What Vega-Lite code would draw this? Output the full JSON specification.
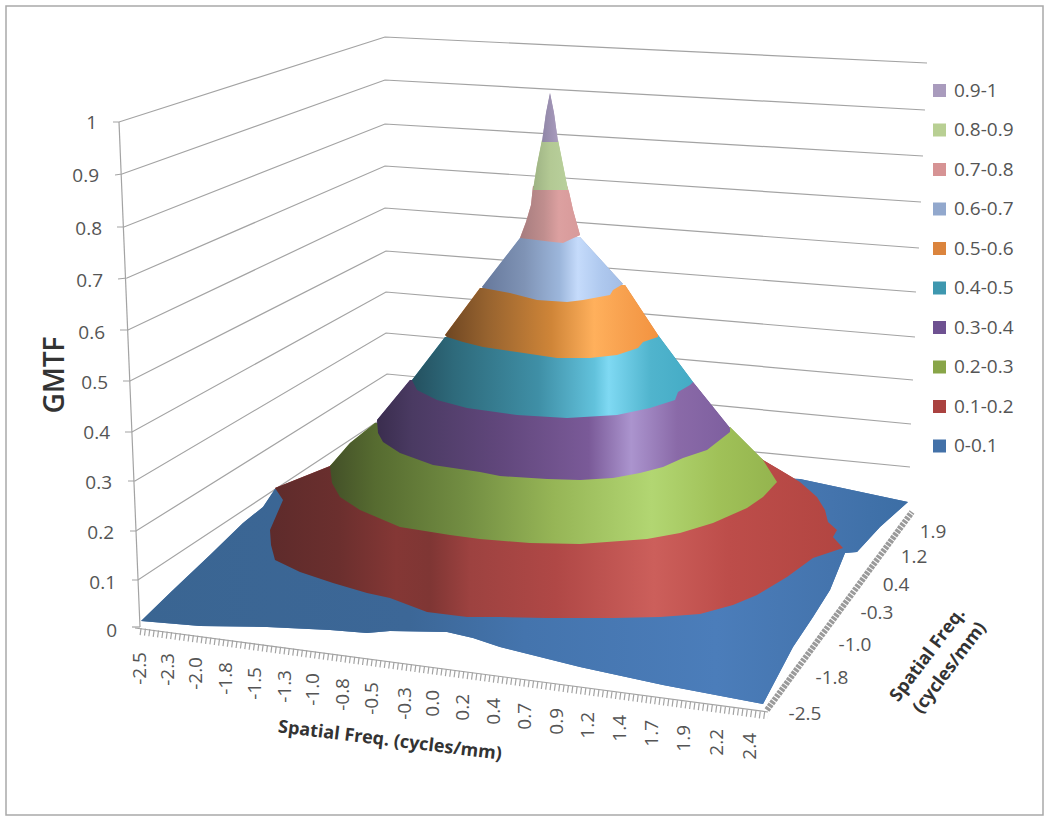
{
"$schema":"https://vega.github.io/schema/vega-lite/v6.json",
"width":1050,"height":820,"padding":0,"autosize":"none","background":"white",
"config":{"view":{"stroke":null}},
"datasets":{
"frame":[{"x":6,"y":6,"x2":1043,"y2":815}],
"grid":[
{"s":"1","i":0,"x":113,"y":122},{"s":"1","i":1,"x":119,"y":122},{"s":"1","i":2,"x":385,"y":37},{"s":"1","i":3,"x":927,"y":63},
{"s":"0.9","i":0,"x":115,"y":175},{"s":"0.9","i":1,"x":122,"y":174},{"s":"0.9","i":2,"x":385,"y":80},{"s":"0.9","i":3,"x":925,"y":110},
{"s":"0.8","i":0,"x":117,"y":227},{"s":"0.8","i":1,"x":124,"y":227},{"s":"0.8","i":2,"x":385,"y":124},{"s":"0.8","i":3,"x":923,"y":156},
{"s":"0.7","i":0,"x":118,"y":279},{"s":"0.7","i":1,"x":127,"y":278},{"s":"0.7","i":2,"x":385,"y":166},{"s":"0.7","i":3,"x":921,"y":202},
{"s":"0.6","i":0,"x":120,"y":330},{"s":"0.6","i":1,"x":128,"y":330},{"s":"0.6","i":2,"x":385,"y":208},{"s":"0.6","i":3,"x":919,"y":248},
{"s":"0.5","i":0,"x":123,"y":381},{"s":"0.5","i":1,"x":130,"y":381},{"s":"0.5","i":2,"x":386,"y":251},{"s":"0.5","i":3,"x":916,"y":292},
{"s":"0.4","i":0,"x":125,"y":432},{"s":"0.4","i":1,"x":132,"y":432},{"s":"0.4","i":2,"x":386,"y":292},{"s":"0.4","i":3,"x":915,"y":337},
{"s":"0.3","i":0,"x":128,"y":481},{"s":"0.3","i":1,"x":135,"y":481},{"s":"0.3","i":2,"x":386,"y":333},{"s":"0.3","i":3,"x":913,"y":380},
{"s":"0.2","i":0,"x":130,"y":531},{"s":"0.2","i":1,"x":136,"y":531},{"s":"0.2","i":2,"x":387,"y":374},{"s":"0.2","i":3,"x":911,"y":424},
{"s":"0.1","i":0,"x":132,"y":580},{"s":"0.1","i":1,"x":138,"y":580},{"s":"0.1","i":2,"x":386,"y":416},{"s":"0.1","i":3,"x":910,"y":467},
{"s":"0","i":0,"x":132,"y":627},{"s":"0","i":1,"x":140,"y":627},
{"s":"yaxis","i":0,"x":119,"y":122},{"s":"yaxis","i":1,"x":140,"y":627},
{"s":"xaxis","i":0,"x":135,"y":628},{"s":"xaxis","i":1,"x":768,"y":712}],
"xticks":[{"x":140,"y":631.5},{"x":768,"y":716}],
"zticks":[{"x":767,"y":710},{"x":912,"y":512}],
"surface":[
{"b":"0-0.1","i":0,"x":141,"y":621},{"b":"0-0.1","i":1,"x":200,"y":626},{"b":"0-0.1","i":2,"x":267,"y":627},{"b":"0-0.1","i":3,"x":330,"y":630},{"b":"0-0.1","i":4,"x":367,"y":633},{"b":"0-0.1","i":5,"x":390,"y":631},{"b":"0-0.1","i":6,"x":447,"y":632},{"b":"0-0.1","i":7,"x":473,"y":638},{"b":"0-0.1","i":8,"x":500,"y":647},{"b":"0-0.1","i":9,"x":580,"y":667},{"b":"0-0.1","i":10,"x":663,"y":685},{"b":"0-0.1","i":11,"x":763,"y":704},{"b":"0-0.1","i":12,"x":793,"y":647},{"b":"0-0.1","i":13,"x":813,"y":617},{"b":"0-0.1","i":14,"x":830,"y":590},{"b":"0-0.1","i":15,"x":845,"y":553},{"b":"0-0.1","i":16,"x":857,"y":552},{"b":"0-0.1","i":17,"x":880,"y":527},{"b":"0-0.1","i":18,"x":908,"y":502},{"b":"0-0.1","i":19,"x":800,"y":479},{"b":"0-0.1","i":20,"x":600,"y":470},{"b":"0-0.1","i":21,"x":275,"y":489},{"b":"0-0.1","i":22,"x":263,"y":507},{"b":"0-0.1","i":23,"x":243,"y":523},{"b":"0-0.1","i":24,"x":210,"y":555},{"b":"0-0.1","i":25,"x":173,"y":590},
{"b":"0.1-0.2","i":0,"x":275,"y":488},{"b":"0.1-0.2","i":1,"x":330,"y":466},{"b":"0.1-0.2","i":2,"x":550,"y":300},{"b":"0.1-0.2","i":3,"x":763,"y":460},{"b":"0.1-0.2","i":4,"x":780,"y":470},{"b":"0.1-0.2","i":5,"x":800,"y":482},{"b":"0.1-0.2","i":6,"x":817,"y":497},{"b":"0.1-0.2","i":7,"x":825,"y":510},{"b":"0.1-0.2","i":8,"x":828,"y":522},{"b":"0.1-0.2","i":9,"x":837,"y":530},{"b":"0.1-0.2","i":10,"x":833,"y":537},{"b":"0.1-0.2","i":11,"x":843,"y":548},{"b":"0.1-0.2","i":12,"x":813,"y":558},{"b":"0.1-0.2","i":13,"x":787,"y":577},{"b":"0.1-0.2","i":14,"x":757,"y":595},{"b":"0.1-0.2","i":15,"x":733,"y":605},{"b":"0.1-0.2","i":16,"x":700,"y":614},{"b":"0.1-0.2","i":17,"x":660,"y":617},{"b":"0.1-0.2","i":18,"x":613,"y":618},{"b":"0.1-0.2","i":19,"x":547,"y":618},{"b":"0.1-0.2","i":20,"x":500,"y":617},{"b":"0.1-0.2","i":21,"x":467,"y":617},{"b":"0.1-0.2","i":22,"x":427,"y":612},{"b":"0.1-0.2","i":23,"x":390,"y":598},{"b":"0.1-0.2","i":24,"x":367,"y":593},{"b":"0.1-0.2","i":25,"x":333,"y":583},{"b":"0.1-0.2","i":26,"x":300,"y":572},{"b":"0.1-0.2","i":27,"x":275,"y":560},{"b":"0.1-0.2","i":28,"x":271,"y":545},{"b":"0.1-0.2","i":29,"x":270,"y":530},{"b":"0.1-0.2","i":30,"x":283,"y":500},
{"b":"0.2-0.3","i":0,"x":330,"y":466},{"b":"0.2-0.3","i":1,"x":350,"y":443},{"b":"0.2-0.3","i":2,"x":375,"y":423},{"b":"0.2-0.3","i":3,"x":730,"y":427},{"b":"0.2-0.3","i":4,"x":763,"y":460},{"b":"0.2-0.3","i":5,"x":777,"y":482},{"b":"0.2-0.3","i":6,"x":763,"y":497},{"b":"0.2-0.3","i":7,"x":747,"y":508},{"b":"0.2-0.3","i":8,"x":713,"y":523},{"b":"0.2-0.3","i":9,"x":680,"y":533},{"b":"0.2-0.3","i":10,"x":647,"y":539},{"b":"0.2-0.3","i":11,"x":580,"y":544},{"b":"0.2-0.3","i":12,"x":530,"y":543},{"b":"0.2-0.3","i":13,"x":480,"y":539},{"b":"0.2-0.3","i":14,"x":450,"y":535},{"b":"0.2-0.3","i":15,"x":400,"y":527},{"b":"0.2-0.3","i":16,"x":360,"y":510},{"b":"0.2-0.3","i":17,"x":340,"y":497},{"b":"0.2-0.3","i":18,"x":332,"y":483},
{"b":"0.3-0.4","i":0,"x":377,"y":420},{"b":"0.3-0.4","i":1,"x":410,"y":380},{"b":"0.3-0.4","i":2,"x":693,"y":382},{"b":"0.3-0.4","i":3,"x":730,"y":428},{"b":"0.3-0.4","i":4,"x":730,"y":432},{"b":"0.3-0.4","i":5,"x":707,"y":450},{"b":"0.3-0.4","i":6,"x":683,"y":458},{"b":"0.3-0.4","i":7,"x":663,"y":467},{"b":"0.3-0.4","i":8,"x":640,"y":473},{"b":"0.3-0.4","i":9,"x":613,"y":478},{"b":"0.3-0.4","i":10,"x":580,"y":480},{"b":"0.3-0.4","i":11,"x":547,"y":479},{"b":"0.3-0.4","i":12,"x":500,"y":476},{"b":"0.3-0.4","i":13,"x":480,"y":472},{"b":"0.3-0.4","i":14,"x":433,"y":465},{"b":"0.3-0.4","i":15,"x":400,"y":453},{"b":"0.3-0.4","i":16,"x":383,"y":442},{"b":"0.3-0.4","i":17,"x":378,"y":433},
{"b":"0.4-0.5","i":0,"x":412,"y":380},{"b":"0.4-0.5","i":1,"x":445,"y":337},{"b":"0.4-0.5","i":2,"x":658,"y":335},{"b":"0.4-0.5","i":3,"x":693,"y":382},{"b":"0.4-0.5","i":4,"x":690,"y":385},{"b":"0.4-0.5","i":5,"x":678,"y":392},{"b":"0.4-0.5","i":6,"x":675,"y":400},{"b":"0.4-0.5","i":7,"x":650,"y":408},{"b":"0.4-0.5","i":8,"x":617,"y":415},{"b":"0.4-0.5","i":9,"x":567,"y":418},{"b":"0.4-0.5","i":10,"x":517,"y":415},{"b":"0.4-0.5","i":11,"x":467,"y":408},{"b":"0.4-0.5","i":12,"x":437,"y":400},{"b":"0.4-0.5","i":13,"x":417,"y":390},
{"b":"0.5-0.6","i":0,"x":445,"y":335},{"b":"0.5-0.6","i":1,"x":480,"y":288},{"b":"0.5-0.6","i":2,"x":625,"y":285},{"b":"0.5-0.6","i":3,"x":658,"y":335},{"b":"0.5-0.6","i":4,"x":658,"y":337},{"b":"0.5-0.6","i":5,"x":643,"y":342},{"b":"0.5-0.6","i":6,"x":638,"y":348},{"b":"0.5-0.6","i":7,"x":617,"y":355},{"b":"0.5-0.6","i":8,"x":590,"y":358},{"b":"0.5-0.6","i":9,"x":557,"y":358},{"b":"0.5-0.6","i":10,"x":517,"y":352},{"b":"0.5-0.6","i":11,"x":483,"y":347},{"b":"0.5-0.6","i":12,"x":463,"y":342},{"b":"0.5-0.6","i":13,"x":447,"y":337},
{"b":"0.6-0.7","i":0,"x":482,"y":287},{"b":"0.6-0.7","i":1,"x":520,"y":238},{"b":"0.6-0.7","i":2,"x":580,"y":237},{"b":"0.6-0.7","i":3,"x":623,"y":284},{"b":"0.6-0.7","i":4,"x":613,"y":290},{"b":"0.6-0.7","i":5,"x":610,"y":295},{"b":"0.6-0.7","i":6,"x":583,"y":300},{"b":"0.6-0.7","i":7,"x":567,"y":302},{"b":"0.6-0.7","i":8,"x":537,"y":300},{"b":"0.6-0.7","i":9,"x":510,"y":293},{"b":"0.6-0.7","i":10,"x":483,"y":288},
{"b":"0.7-0.8","i":0,"x":520,"y":238},{"b":"0.7-0.8","i":1,"x":526,"y":222},{"b":"0.7-0.8","i":2,"x":531,"y":205},{"b":"0.7-0.8","i":3,"x":533,"y":186},{"b":"0.7-0.8","i":4,"x":567,"y":186},{"b":"0.7-0.8","i":5,"x":569,"y":192},{"b":"0.7-0.8","i":6,"x":573,"y":210},{"b":"0.7-0.8","i":7,"x":580,"y":235},{"b":"0.7-0.8","i":8,"x":563,"y":243},{"b":"0.7-0.8","i":9,"x":553,"y":242},
{"b":"0.8-0.9","i":0,"x":533,"y":190},{"b":"0.8-0.9","i":1,"x":537,"y":165},{"b":"0.8-0.9","i":2,"x":542,"y":140},{"b":"0.8-0.9","i":3,"x":558,"y":140},{"b":"0.8-0.9","i":4,"x":563,"y":165},{"b":"0.8-0.9","i":5,"x":568,"y":190},
{"b":"0.9-1","i":0,"x":542,"y":142},{"b":"0.9-1","i":1,"x":546,"y":113},{"b":"0.9-1","i":2,"x":550,"y":93},{"b":"0.9-1","i":3,"x":554,"y":113},{"b":"0.9-1","i":4,"x":558,"y":142}],
"ylab":[{"t":"1","x":97,"y":123},{"t":"0.9","x":99,"y":176},{"t":"0.8","x":102,"y":229},{"t":"0.7","x":103,"y":281},{"t":"0.6","x":105,"y":333},{"t":"0.5","x":108,"y":383},{"t":"0.4","x":110,"y":433},{"t":"0.3","x":112,"y":483},{"t":"0.2","x":114,"y":533},{"t":"0.1","x":116,"y":583},{"t":"0","x":117,"y":631}],
"xlab":[{"t":"-2.5","x":140,"y":652},{"t":"-2.3","x":168,"y":653},{"t":"-2.0","x":196,"y":657},{"t":"-1.8","x":226,"y":662},{"t":"-1.5","x":255,"y":667},{"t":"-1.3","x":285,"y":670},{"t":"-1.0","x":313,"y":673},{"t":"-0.8","x":343,"y":678},{"t":"-0.5","x":372,"y":682},{"t":"-0.3","x":405,"y":687},{"t":"0.0","x":433,"y":690},{"t":"0.2","x":463,"y":694},{"t":"0.4","x":494,"y":698},{"t":"0.7","x":525,"y":703},{"t":"0.9","x":557,"y":708},{"t":"1.2","x":588,"y":712},{"t":"1.4","x":620,"y":715},{"t":"1.7","x":652,"y":720},{"t":"1.9","x":684,"y":725},{"t":"2.2","x":717,"y":729},{"t":"2.4","x":750,"y":733}],
"zlab":[{"t":"1.9","x":933,"y":532},{"t":"1.2","x":914,"y":557},{"t":"0.4","x":896,"y":585},{"t":"-0.3","x":877,"y":613},{"t":"-1.0","x":855,"y":645},{"t":"-1.8","x":832,"y":678},{"t":"-2.5","x":805,"y":714}]
},
"encoding":{
"x":{"field":"x","type":"quantitative","scale":{"domain":[0,1050],"nice":false,"zero":false},"axis":null},
"y":{"field":"y","type":"quantitative","scale":{"domain":[820,0],"nice":false,"zero":false},"axis":null}
},
"layer":[
{"data":{"name":"frame"},"mark":{"type":"rect","fill":null,"stroke":"#a9a9a9","strokeWidth":1.5},"encoding":{"x2":{"field":"x2"},"y2":{"field":"y2"}}},
{"data":{"name":"grid"},"mark":{"type":"line","stroke":"#a3a3a3","strokeWidth":1.2},"encoding":{"detail":{"field":"s"},"order":{"field":"i"}}},
{"data":{"name":"xticks"},"mark":{"type":"line","stroke":"#a3a3a3","strokeWidth":7,"strokeDash":[1.2,3.2]}},
{"data":{"name":"zticks"},"mark":{"type":"line","stroke":"#9a9a9a","strokeWidth":6,"strokeDash":[3,1]}},
{"data":{"name":"surface"},"mark":{"type":"line","strokeWidth":0,"stroke":"transparent"},"encoding":{"fill":{"field":"b","type":"nominal","scale":{"domain":["0.9-1","0.8-0.9","0.7-0.8","0.6-0.7","0.5-0.6","0.4-0.5","0.3-0.4","0.2-0.3","0.1-0.2","0-0.1"],"range":["#a99bbd","#b8cf93","#d69394","#92a8cd","#db843d","#3e97af","#6e5191","#88a548","#aa4240","#4371a8"]},"legend":{"orient":"none","legendX":930,"legendY":81,"title":null,"symbolType":"square","symbolSize":169,"symbolStrokeWidth":0,"labelFont":"Open Sans","labelFontSize":19,"labelColor":"#555555","labelOffset":5,"rowPadding":19.5}},"order":{"field":"i"}}},
{"data":{"name":"surface"},"transform":[{"filter":"datum.b==='0-0.1'"}],"mark":{"type":"line","strokeWidth":0,"stroke":"transparent","fill":{"gradient":"linear","x1":0,"x2":1,"y1":0,"y2":0,"stops":[{"offset":0,"color":"#3a6592"},{"offset":0.35,"color":"#3c6797"},{"offset":0.5,"color":"#4474ad"},{"offset":0.75,"color":"#4b7dba"},{"offset":0.9,"color":"#4474ad"},{"offset":1,"color":"#3c6ea5"}]}},"encoding":{"order":{"field":"i"}}},
{"data":{"name":"surface"},"transform":[{"filter":"datum.b==='0.1-0.2'"}],"mark":{"type":"line","strokeWidth":0,"stroke":"transparent","fill":{"gradient":"linear","x1":0,"x2":1,"y1":0,"y2":0,"stops":[{"offset":0,"color":"#5e2b2b"},{"offset":0.12,"color":"#6b2f2e"},{"offset":0.22,"color":"#843735"},{"offset":0.28,"color":"#7f3634"},{"offset":0.35,"color":"#9d4240"},{"offset":0.5,"color":"#b04846"},{"offset":0.67,"color":"#cc5f5b"},{"offset":0.8,"color":"#bd4d4a"},{"offset":1,"color":"#b24541"}]}},"encoding":{"order":{"field":"i"}}},
{"data":{"name":"surface"},"transform":[{"filter":"datum.b==='0.2-0.3'"}],"mark":{"type":"line","strokeWidth":0,"stroke":"transparent","fill":{"gradient":"linear","x1":0,"x2":1,"y1":0,"y2":0,"stops":[{"offset":0,"color":"#435028"},{"offset":0.1,"color":"#566b30"},{"offset":0.3,"color":"#728d42"},{"offset":0.5,"color":"#96b556"},{"offset":0.72,"color":"#b2d672"},{"offset":0.87,"color":"#a0c158"},{"offset":1,"color":"#94b44e"}]}},"encoding":{"order":{"field":"i"}}},
{"data":{"name":"surface"},"transform":[{"filter":"datum.b==='0.3-0.4'"}],"mark":{"type":"line","strokeWidth":0,"stroke":"transparent","fill":{"gradient":"linear","x1":0,"x2":1,"y1":0,"y2":0,"stops":[{"offset":0,"color":"#3a2d4e"},{"offset":0.1,"color":"#4a3a62"},{"offset":0.35,"color":"#61477c"},{"offset":0.6,"color":"#7a5a98"},{"offset":0.72,"color":"#ab94ce"},{"offset":0.85,"color":"#8a6aa8"},{"offset":1,"color":"#7e5f9f"}]}},"encoding":{"order":{"field":"i"}}},
{"data":{"name":"surface"},"transform":[{"filter":"datum.b==='0.4-0.5'"}],"mark":{"type":"line","strokeWidth":0,"stroke":"transparent","fill":{"gradient":"linear","x1":0,"x2":1,"y1":0,"y2":0,"stops":[{"offset":0,"color":"#24505f"},{"offset":0.15,"color":"#2e6a7b"},{"offset":0.45,"color":"#3f8fa6"},{"offset":0.65,"color":"#62c2dc"},{"offset":0.7,"color":"#7fd9f3"},{"offset":0.85,"color":"#50b4cd"},{"offset":1,"color":"#44abc5"}]}},"encoding":{"order":{"field":"i"}}},
{"data":{"name":"surface"},"transform":[{"filter":"datum.b==='0.5-0.6'"}],"mark":{"type":"line","strokeWidth":0,"stroke":"transparent","fill":{"gradient":"linear","x1":0,"x2":1,"y1":0,"y2":0,"stops":[{"offset":0,"color":"#6e4622"},{"offset":0.2,"color":"#97632f"},{"offset":0.5,"color":"#cf8538"},{"offset":0.7,"color":"#ffb05c"},{"offset":0.85,"color":"#f7a04e"},{"offset":1,"color":"#f39340"}]}},"encoding":{"order":{"field":"i"}}},
{"data":{"name":"surface"},"transform":[{"filter":"datum.b==='0.6-0.7'"}],"mark":{"type":"line","strokeWidth":0,"stroke":"transparent","fill":{"gradient":"linear","x1":0,"x2":1,"y1":0,"y2":0,"stops":[{"offset":0,"color":"#66789b"},{"offset":0.3,"color":"#7f93b5"},{"offset":0.55,"color":"#9cb6db"},{"offset":0.68,"color":"#c5dbfb"},{"offset":0.85,"color":"#aec8ee"},{"offset":1,"color":"#a3bde5"}]}},"encoding":{"order":{"field":"i"}}},
{"data":{"name":"surface"},"transform":[{"filter":"datum.b==='0.7-0.8'"}],"mark":{"type":"line","strokeWidth":0,"stroke":"transparent","fill":{"gradient":"linear","x1":0,"x2":1,"y1":0,"y2":0,"stops":[{"offset":0,"color":"#a67c7e"},{"offset":0.4,"color":"#c08e8e"},{"offset":0.65,"color":"#dca0a0"},{"offset":1,"color":"#d89a9a"}]}},"encoding":{"order":{"field":"i"}}},
{"data":{"name":"surface"},"transform":[{"filter":"datum.b==='0.8-0.9'"}],"mark":{"type":"line","strokeWidth":0,"stroke":"transparent","fill":{"gradient":"linear","x1":0,"x2":1,"y1":0,"y2":0,"stops":[{"offset":0,"color":"#9db283"},{"offset":0.5,"color":"#b3c994"},{"offset":1,"color":"#b9d09c"}]}},"encoding":{"order":{"field":"i"}}},
{"data":{"name":"surface"},"transform":[{"filter":"datum.b==='0.9-1'"}],"mark":{"type":"line","strokeWidth":0,"stroke":"transparent","fill":{"gradient":"linear","x1":0,"x2":1,"y1":0,"y2":0,"stops":[{"offset":0,"color":"#8f86a6"},{"offset":1,"color":"#a99bbd"}]}},"encoding":{"order":{"field":"i"}}},
{"data":{"name":"ylab"},"mark":{"type":"text","align":"right","baseline":"middle","font":"Open Sans","fontSize":19,"fill":"#555555"},"encoding":{"text":{"field":"t"}}},
{"data":{"name":"xlab"},"mark":{"type":"text","align":"right","baseline":"middle","angle":270,"font":"Open Sans","fontSize":19,"fill":"#555555"},"encoding":{"text":{"field":"t"}}},
{"data":{"name":"zlab"},"mark":{"type":"text","align":"center","baseline":"middle","font":"Open Sans","fontSize":19,"fill":"#555555"},"encoding":{"text":{"field":"t"}}},
{"data":{"values":[{"t":"GMTF","x":56,"y":375}]},"mark":{"type":"text","align":"center","baseline":"middle","angle":270,"font":"Open Sans","fontSize":28,"fontWeight":600,"fill":"#333333"},"encoding":{"text":{"field":"t"}}},
{"data":{"values":[{"t":"Spatial Freq. (cycles/mm)","x":390,"y":741}]},"mark":{"type":"text","align":"center","baseline":"middle","angle":7,"font":"Open Sans","fontSize":18,"fontWeight":"bold","fill":"#333333"},"encoding":{"text":{"field":"t"}}},
{"data":{"values":[{"t":"Spatial Freq.","x":928,"y":655},{"t":"(cycles/mm)","x":950,"y":668}]},"mark":{"type":"text","align":"center","baseline":"middle","angle":307,"font":"Open Sans","fontSize":18,"fontWeight":"bold","fill":"#333333"},"encoding":{"text":{"field":"t"}}}
]
}
